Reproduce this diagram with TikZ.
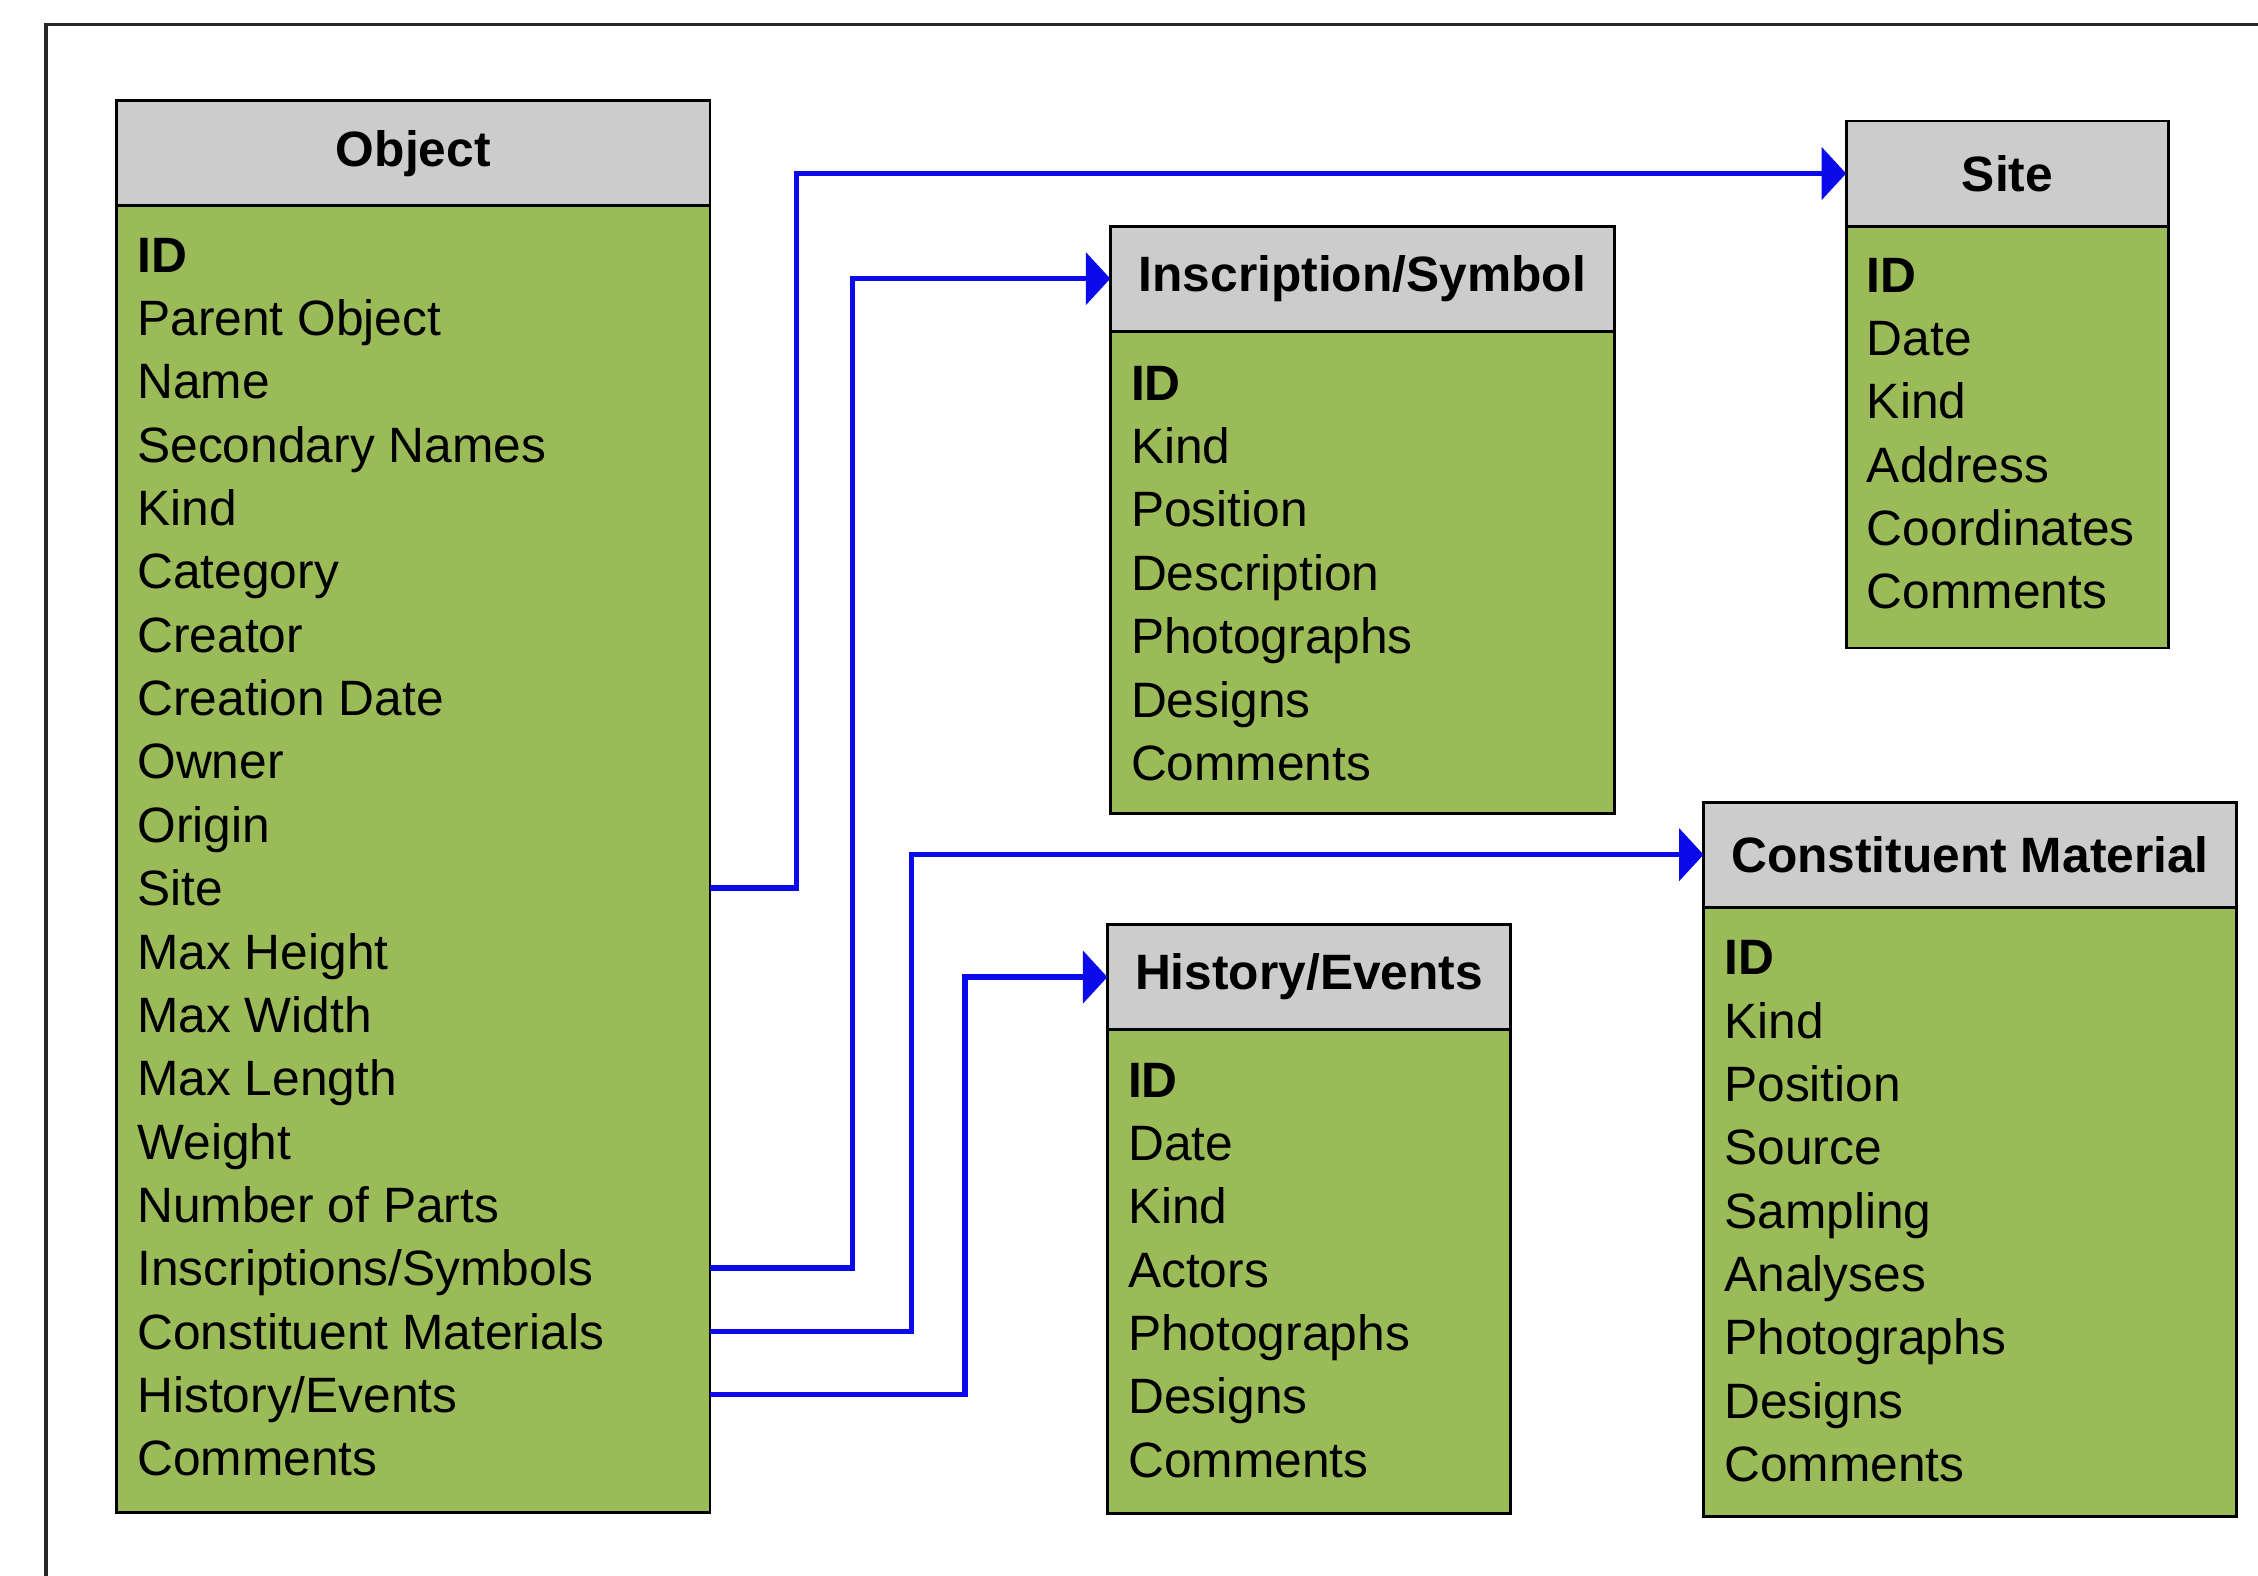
\documentclass[tikz,border=0pt]{standalone}
\usepackage{fontspec}
\setmainfont{Liberation Sans}
\usepackage{xcolor}
\usetikzlibrary{positioning,arrows.meta}
\definecolor{tablegreen}{RGB}{155,187,89}
\definecolor{headgray}{RGB}{204,204,204}
\definecolor{linkblue}{RGB}{10,10,235}
\definecolor{framegray}{RGB}{40,40,40}
\tikzset{
  tablehead/.style={draw=black, line width=1pt, fill=headgray, minimum height=36.5pt,
    inner sep=0pt, outer sep=0pt, anchor=north west, font=\fontsize{17.25}{22}\selectfont\bfseries},
  tablebody/.style={draw=black, line width=1pt, fill=tablegreen, inner sep=0pt, outer sep=0pt},
  field/.style={anchor=west, inner sep=0pt, text height=16.4pt, text depth=4pt,
    font=\fontsize{17.25}{22}\selectfont},
  keyfield/.style={field, font=\fontsize{17.25}{22}\selectfont\bfseries},
  link/.style={draw=linkblue, line width=1.9pt, -{Triangle[length=8.5pt,width=18pt]}}
}
\begin{document}
\begin{tikzpicture}[scale=1.000000,x=1pt,y=1pt]
\useasboundingbox (0.000000,0.000000) rectangle (784.000000,547.000000);
\fill[color=white] (0.000000,0.000000) rectangle (784.000000,547.000000);
% Drawing frame
\draw[color=framegray, line width=1.15pt] (16.000000,-5.000000) -- (16.000000,538.500000) -- (790.000000,538.500000);
% Drawing tables
% Table 1: Object
\node[tablehead, minimum width=206pt] (obj-head) at (40.500000,512.000000) {Object};
\node[tablebody, minimum width=206pt, minimum height=453.5pt, below=0pt of obj-head] (obj-body) {};
\node[keyfield] (obj-id) at (47.500000,458.750000) {ID};
\node[field] (obj-parent) at (47.500000,436.750000) {Parent Object};
\node[field] (obj-name) at (47.500000,414.750000) {Name};
\node[field] (obj-secnames) at (47.500000,392.750000) {Secondary Names};
\node[field] (obj-kind) at (47.500000,370.750000) {Kind};
\node[field] (obj-category) at (47.500000,348.750000) {Category};
\node[field] (obj-creator) at (47.500000,326.750000) {Creator};
\node[field] (obj-created) at (47.500000,304.750000) {Creation Date};
\node[field] (obj-owner) at (47.500000,282.750000) {Owner};
\node[field] (obj-origin) at (47.500000,260.750000) {Origin};
\node[field] (obj-site) at (47.500000,238.750000) {Site};
\node[field] (obj-height) at (47.500000,216.750000) {Max Height};
\node[field] (obj-width) at (47.500000,194.750000) {Max Width};
\node[field] (obj-length) at (47.500000,172.750000) {Max Length};
\node[field] (obj-weight) at (47.500000,150.750000) {Weight};
\node[field] (obj-parts) at (47.500000,128.750000) {Number of Parts};
\node[field] (obj-insc) at (47.500000,106.750000) {Inscriptions/Symbols};
\node[field] (obj-mat) at (47.500000,84.750000) {Constituent Materials};
\node[field] (obj-hist) at (47.500000,62.750000) {History/Events};
\node[field] (obj-comments) at (47.500000,40.750000) {Comments};
% Table 2: Site
\node[tablehead, minimum width=112pt] (site-head) at (641.000000,505.000000) {Site};
\node[tablebody, minimum width=112pt, minimum height=146.5pt, below=0pt of site-head] (site-body) {};
\node[keyfield] (site-id) at (648.000000,451.750000) {ID};
\node[field] (site-date) at (648.000000,429.750000) {Date};
\node[field] (site-kind) at (648.000000,407.750000) {Kind};
\node[field] (site-address) at (648.000000,385.750000) {Address};
\node[field] (site-coords) at (648.000000,363.750000) {Coordinates};
\node[field] (site-comments) at (648.000000,341.750000) {Comments};
% Table 3: Inscription/Symbol
\node[tablehead, minimum width=175pt] (insc-head) at (385.500000,468.500000) {Inscription/Symbol};
\node[tablebody, minimum width=175pt, minimum height=167.5pt, below=0pt of insc-head] (insc-body) {};
\node[keyfield] (insc-id) at (392.500000,414.250000) {ID};
\node[field] (insc-kind) at (392.500000,392.250000) {Kind};
\node[field] (insc-position) at (392.500000,370.250000) {Position};
\node[field] (insc-descr) at (392.500000,348.250000) {Description};
\node[field] (insc-photos) at (392.500000,326.250000) {Photographs};
\node[field] (insc-designs) at (392.500000,304.250000) {Designs};
\node[field] (insc-comments) at (392.500000,282.250000) {Comments};
% Table 4: Constituent Material
\node[tablehead, minimum width=185pt] (mat-head) at (591.500000,268.500000) {Constituent Material};
\node[tablebody, minimum width=185pt, minimum height=211.5pt, below=0pt of mat-head] (mat-body) {};
\node[keyfield] (mat-id) at (598.500000,214.750000) {ID};
\node[field] (mat-kind) at (598.500000,192.750000) {Kind};
\node[field] (mat-position) at (598.500000,170.750000) {Position};
\node[field] (mat-source) at (598.500000,148.750000) {Source};
\node[field] (mat-sampling) at (598.500000,126.750000) {Sampling};
\node[field] (mat-analyses) at (598.500000,104.750000) {Analyses};
\node[field] (mat-photos) at (598.500000,82.750000) {Photographs};
\node[field] (mat-designs) at (598.500000,60.750000) {Designs};
\node[field] (mat-comments) at (598.500000,38.750000) {Comments};
% Table 5: History/Events
\node[tablehead, minimum width=140pt] (hist-head) at (384.500000,226.000000) {History/Events};
\node[tablebody, minimum width=140pt, minimum height=168pt, below=0pt of hist-head] (hist-body) {};
\node[keyfield] (hist-id) at (391.500000,172.250000) {ID};
\node[field] (hist-date) at (391.500000,150.250000) {Date};
\node[field] (hist-kind) at (391.500000,128.250000) {Kind};
\node[field] (hist-actors) at (391.500000,106.250000) {Actors};
\node[field] (hist-photos) at (391.500000,84.250000) {Photographs};
\node[field] (hist-designs) at (391.500000,62.250000) {Designs};
\node[field] (hist-comments) at (391.500000,40.250000) {Comments};
% Done with tables; drawing links
\draw[link] (obj-body.east |- obj-site) -- ++(30.000000,0) |- (site-head.west);
\draw[link] (obj-body.east |- obj-insc) -- ++(49.500000,0) |- (insc-head.west);
\draw[link] (obj-body.east |- obj-mat) -- ++(70.000000,0) |- (mat-head.west);
\draw[link] (obj-body.east |- obj-hist) -- ++(88.500000,0) |- (hist-head.west);
% Done with links
\end{tikzpicture}
\end{document}
